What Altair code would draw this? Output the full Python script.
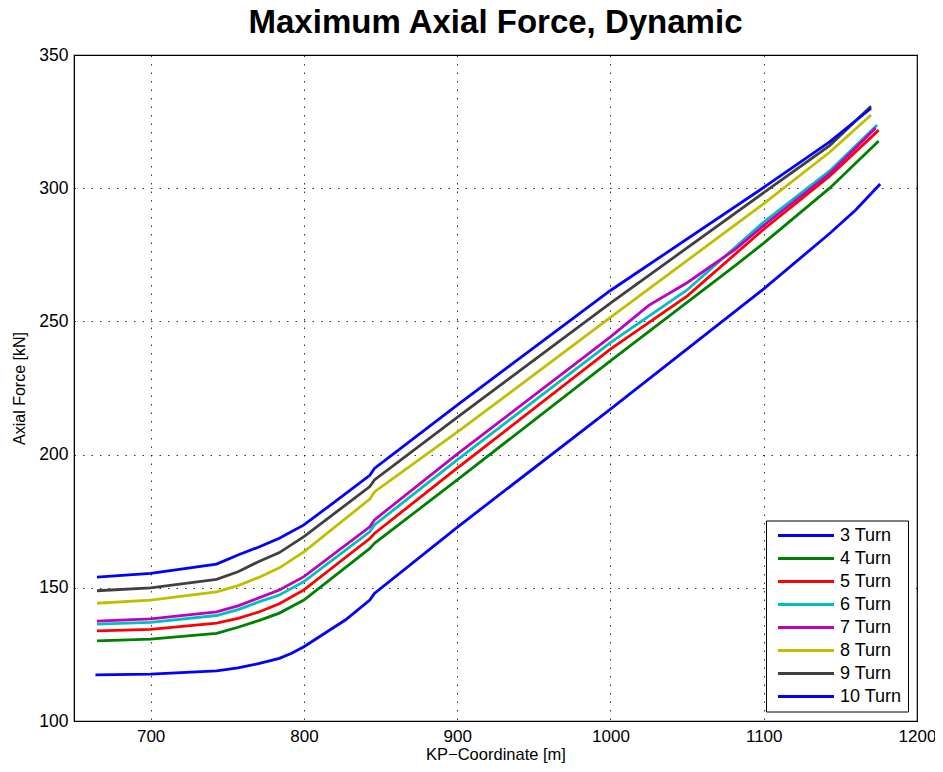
import altair as alt
import pandas as pd

series_names = ["3 Turn", "4 Turn", "5 Turn", "6 Turn", "7 Turn", "8 Turn", "9 Turn", "10 Turn"]
series_colors = ["#0000FF", "#008000", "#FF0000", "#00BFBF", "#BF00BF", "#BFBF00", "#404040", "#0000FF"]

kp_3 = [664, 700, 743, 757, 771, 784, 792, 800, 827, 843, 846, 900, 1000, 1100, 1143, 1160, 1176]
force_3 = [117.3, 117.6, 118.8, 119.9, 121.6, 123.5, 125.4, 127.9, 137.9, 145.4, 147.9, 172.7, 217.1, 262.2, 283.0, 291.8, 301.6]

kp_4 = [665, 700, 743, 757, 771, 784, 800, 843, 846, 900, 1000, 1082, 1100, 1143, 1175]
force_4 = [130.1, 130.7, 132.9, 135.2, 137.8, 140.5, 145.4, 164.8, 166.7, 190.5, 235.2, 271.2, 279.4, 300.0, 317.7]

kp_5 = [665, 700, 743, 757, 771, 784, 800, 843, 846, 900, 1000, 1050, 1100, 1143, 1175]
force_5 = [133.8, 134.4, 136.7, 138.5, 141.0, 144.0, 149.2, 168.5, 170.4, 194.9, 239.6, 259.5, 284.6, 304.5, 321.8]

kp_6 = [665, 700, 743, 757, 771, 784, 800, 843, 846, 900, 1000, 1050, 1100, 1143, 1174]
force_6 = [136.4, 137.0, 139.6, 141.8, 144.8, 147.3, 152.3, 171.0, 173.6, 198.0, 242.0, 261.8, 287.3, 306.5, 323.7]

kp_7 = [665, 700, 743, 757, 771, 784, 800, 843, 846, 900, 1000, 1025, 1050, 1082, 1100, 1143, 1173]
force_7 = [137.5, 138.3, 141.0, 143.2, 146.3, 149.2, 154.2, 172.9, 175.5, 200.2, 244.2, 256.0, 264.5, 277.3, 286.0, 305.5, 322.6]

kp_8 = [665, 700, 743, 757, 771, 784, 800, 843, 846, 900, 1000, 1100, 1143, 1170]
force_8 = [144.2, 145.4, 148.5, 150.8, 154.0, 157.5, 163.5, 183.3, 186.0, 208.4, 251.5, 294.2, 313.5, 327.5]

kp_9 = [665, 700, 743, 757, 771, 784, 800, 843, 846, 900, 1000, 1100, 1143, 1170]
force_9 = [148.9, 150.0, 153.2, 156.0, 160.0, 163.2, 169.2, 188.0, 190.5, 214.0, 256.9, 298.3, 316.0, 330.8]

kp_10 = [665, 700, 743, 757, 771, 784, 800, 816, 843, 846, 900, 1000, 1100, 1143, 1170]
force_10 = [154.0, 155.4, 158.9, 162.3, 165.4, 168.6, 173.6, 180.5, 192.2, 194.8, 218.6, 261.6, 300.3, 317.4, 330.0]

x_ticks = [700, 800, 900, 1000, 1100, 1200]
y_ticks = [100, 150, 200, 250, 300, 350]

all_kp = [kp_3, kp_4, kp_5, kp_6, kp_7, kp_8, kp_9, kp_10]
all_force = [force_3, force_4, force_5, force_6, force_7, force_8, force_9, force_10]

rows = []
for name, kps, fs in zip(series_names, all_kp, all_force):
    for i, (k, f) in enumerate(zip(kps, fs)):
        rows.append({"series": name, "kp": k, "force": f, "idx": i})
df = pd.DataFrame(rows)

FONT = "Liberation Sans"

chart = alt.Chart(df).mark_line(strokeWidth=2.8, clip=True).encode(
    x=alt.X("kp:Q",
            scale=alt.Scale(domain=[650, 1200], nice=False, zero=False),
            axis=alt.Axis(values=x_ticks, title="KP\u2212Coordinate [m]", format="d",
                          labelFontSize=17, titleFontSize=16.5, labelFont=FONT, titleFont=FONT,
                          titleFontWeight="normal", labelColor="black", titleColor="black",
                          ticks=False, labelPadding=7, titlePadding=2,
                          domainColor="black", grid=True, gridColor="black", gridDash=[1.5, 7],
                          gridOpacity=0.8, labelFlush=False)),
    y=alt.Y("force:Q",
            scale=alt.Scale(domain=[100, 350], nice=False, zero=False),
            axis=alt.Axis(values=y_ticks, title="Axial Force [kN]", format="d",
                          labelFontSize=17.5, titleFontSize=16, labelFont=FONT, titleFont=FONT,
                          titleFontWeight="normal", labelColor="black", titleColor="black",
                          ticks=False, labelPadding=6, titlePadding=11,
                          domainColor="black", grid=True, gridColor="black", gridDash=[1.5, 7],
                          gridOpacity=0.8, labelFlush=False)),
    color=alt.Color("series:N",
                    scale=alt.Scale(domain=series_names, range=series_colors),
                    sort=series_names,
                    legend=alt.Legend(title=None, orient="none", legendX=692, legendY=465.5,
                                      symbolType="M-4,0H4", symbolSize=196, symbolStrokeWidth=3,
                                      symbolOffset=25, labelOffset=25,
                                      labelFontSize=18, labelFont=FONT, labelColor="black",
                                      strokeColor="black", fillColor="white", padding=6,
                                      rowPadding=5, cornerRadius=0)),
    order=alt.Order("idx:Q"),
).properties(
    width=843,
    height=666,
    title=alt.TitleParams("Maximum Axial Force, Dynamic", fontSize=33, font=FONT,
                          fontWeight="bold", color="black", anchor="middle", offset=6),
    autosize=alt.AutoSizeParams(type="none"),
    padding={"left": 66, "top": 47, "right": 18, "bottom": 43},
).configure_view(stroke="black", strokeWidth=1.2)

chart.save("out.html", embed_options={"renderer": "svg", "actions": False})
